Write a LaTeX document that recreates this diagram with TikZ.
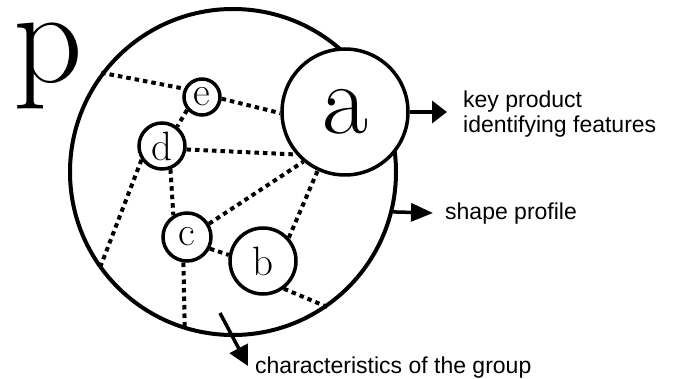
\documentclass[tikz,border=0pt]{standalone}
\usepackage{fontspec}
\newfontfamily\labelfont{Liberation Sans}
\usetikzlibrary{arrows.meta}

\begin{document}
\begin{tikzpicture}[x=1pt,y=-1pt,
  ring/.style={circle,draw,line width=3.5pt,fill=white,inner sep=0pt},
  letter/.style={font=\fontsize{41}{41}\selectfont},
  link/.style={line width=4pt,dash pattern=on 4.5pt off 4pt},
  pointer/.style={line width=3.5pt},
  caption/.style={font=\labelfont\fontsize{23}{25}\selectfont,inner sep=0pt,anchor=base west,align=left}]
\useasboundingbox (0,0) rectangle (674,379);

% outer group circle and its letter
\node[circle,draw,line width=4pt,inner sep=0pt,minimum size=326pt] (group) at (233,172) {};
\node[font=\fontsize{136}{136}\selectfont,inner sep=0pt,text height=66pt,text depth=28pt,anchor=base west] (plabel) at (13,83) {p};

% key element and member elements
\node[ring,minimum size=126pt,font=\fontsize{100}{100}\selectfont] (a) at (345,112) {a};
\node[ring,letter,minimum size=36pt] (e) at (202,97) {e};
\node[ring,letter,minimum size=46pt] (d) at (162,146) {d};
\node[ring,letter,minimum size=48pt] (c) at (187,237) {c};
\node[ring,letter,minimum size=66pt] (b) at (263,261) {b};

% dotted relations
\draw[link] (group.143.6) -- (e.155);
\draw[link] (e.-5) -- (a.181);
\draw[link] (e.221) -- (d.52);
\draw[link] (d.-8) -- (a.221);
\draw[link] (d.214) -- (group.216);
\draw[link] (d.290) -- (c.122);
\draw[link] (c.31) -- (a.230);
\draw[link] (c.-27) -- (b.170);
\draw[link] (c.262) -- (group.253);
\draw[link] (b.42) -- (a.245);
\draw[link] (b.-53) -- (group.305.7);

% arrows to the captions
\coordinate (keytip) at (447,112);
\coordinate (shapetip) at (433,213);
\coordinate (groupstart) at (220,313);
\coordinate (grouptip) at (248,366);
\draw[pointer,-{Triangle[length=15pt,width=22pt]}] (a.east) -- (keytip);
\draw[pointer,-{Triangle[length=22pt,width=18pt]}] (group.-14.4) -- (shapetip);
\draw[pointer,-{Triangle[length=20pt,width=20pt]}] (groupstart) -- (grouptip);

\node[caption] (keytext) at (463,133) {key product\\identifying features};
\node[caption] (shapetext) at (445,220) {shape profile};
\node[caption] (grouptext) at (255,373) {characteristics of the group};
\end{tikzpicture}
\end{document}
